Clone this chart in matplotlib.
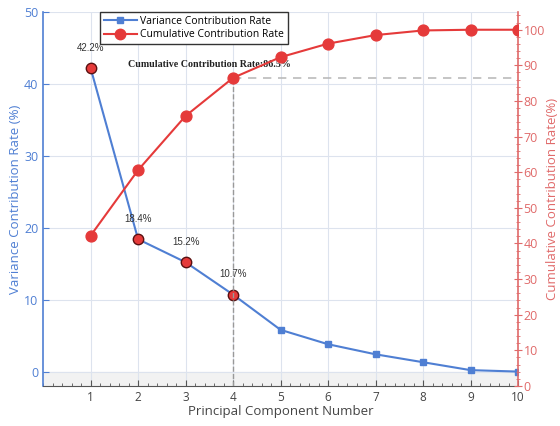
import matplotlib
matplotlib.use('Agg')
import matplotlib.pyplot as plt
from matplotlib.ticker import MultipleLocator
from matplotlib.lines import Line2D

components = [1, 2, 3, 4, 5, 6, 7, 8, 9, 10]
variance = [42.2, 18.4, 15.2, 10.7, 5.8, 3.8, 2.4, 1.3, 0.2, 0.0]
cumulative = [42.2, 60.6, 75.8, 86.5, 92.3, 96.1, 98.5, 99.8, 100.0, 100.0]
n_keep = 4
threshold = 86.5

blue = '#4F7FD3'
red = '#E53A3A'
red_axis = '#E06A6A'

plt.rcParams['font.family'] = ['Open Sans', 'DejaVu Sans']
plt.rcParams['font.size'] = 8

fig = plt.figure(figsize=(5.6, 4.26), dpi=100)
ax1 = fig.add_axes([0.077, 0.094, 0.848, 0.878])
ax2 = ax1.twinx()

ax1.set_xlim(0, 10)
ax1.set_ylim(-2, 50)
ax2.set_ylim(0, 105)

# grid and shaded band under zero
ax1.set_axisbelow(True)
ax1.grid(True, which='major', color='#dde3ee', linewidth=0.8)
ax1.axhspan(-2, 0, color='#f2f2f2', zorder=0)

ax1.plot(components, variance, color=blue, lw=1.5, marker='s', ms=4.5, zorder=3)
ax1.plot(components[:n_keep], variance[:n_keep], ls='none', marker='o', ms=7.5,
         mfc=red, mec='#5a1010', mew=1.0, zorder=4)
for x, v in zip(components[:n_keep], variance[:n_keep]):
    ax1.annotate(f'{v}%', (x, v), xytext=(0, 11), textcoords='offset points',
                 ha='center', va='bottom', fontsize=7, color='#333333',
                 family=['Liberation Sans'])

ax2.plot(components, cumulative, color=red, lw=1.5, marker='o', ms=7.8, zorder=3)
ax2.plot([n_keep, n_keep], [0, threshold], color='#999999', ls='--', lw=1.0, zorder=2)
ax2.plot([n_keep, 10], [threshold, threshold], color='#bbbbbb', ls='--', lw=1.2,
         dashes=(5, 4), zorder=2)
ax1.text(3.5, 42.7, f'Cumulative Contribution Rate:{threshold}%', ha='center', va='center',
         fontsize=7.2, fontweight='bold', family=['Liberation Serif'], color='#222222')

ax1.set_xticks(components)
ax1.xaxis.set_minor_locator(MultipleLocator(0.2))
ax1.tick_params(axis='x', which='major', direction='in', length=4, colors='#555555',
                labelcolor='#444444', labelsize=8.5)
ax1.tick_params(axis='x', which='minor', direction='in', length=2.5, color='#555555')
ax1.set_xlabel('Principal Component Number', color='#444444', fontsize=9.5, labelpad=1)

ax1.set_yticks([0, 10, 20, 30, 40, 50])
ax1.tick_params(axis='y', direction='in', length=4, colors=blue, labelsize=9)
ax1.set_ylabel('Variance Contribution Rate (%)', color=blue, fontsize=9.5, labelpad=1)

ax2.set_yticks(range(0, 101, 10))
ax2.yaxis.set_minor_locator(MultipleLocator(2))
ax2.tick_params(axis='y', which='major', direction='inout', length=6, colors=red_axis,
                labelsize=9, pad=1)
ax2.tick_params(axis='y', which='minor', direction='inout', length=3.5, color=red_axis)
ax2.set_ylabel('Cumulative Contribution Rate(%)', color=red_axis, fontsize=9.5, labelpad=1)

ax1.spines['top'].set_visible(False)
ax2.spines['top'].set_visible(False)
ax1.spines['right'].set_visible(False)
ax2.spines['left'].set_visible(False)
ax1.spines['left'].set_color(blue)
ax1.spines['left'].set_linewidth(1.2)
ax2.spines['right'].set_color(red_axis)
ax2.spines['right'].set_linewidth(1.2)
ax1.spines['bottom'].set_color('#555555')
ax2.spines['bottom'].set_visible(False)

handles = [Line2D([], [], color=blue, lw=1.5, marker='s', ms=4),
           Line2D([], [], color=red, lw=1.5, marker='o', ms=7.5)]
leg = ax1.legend(handles, ['Variance Contribution Rate', 'Cumulative Contribution Rate'],
                 loc='upper left', bbox_to_anchor=(0.12, 1.0), borderaxespad=0,
                 fancybox=False, edgecolor='#333333', framealpha=1, fontsize=7.5,
                 handlelength=3.2, borderpad=0.35, labelspacing=0.25, handletextpad=0.3)
leg.get_frame().set_linewidth(1.0)
leg.set_zorder(10)

fig.savefig('out.png', dpi=100)
